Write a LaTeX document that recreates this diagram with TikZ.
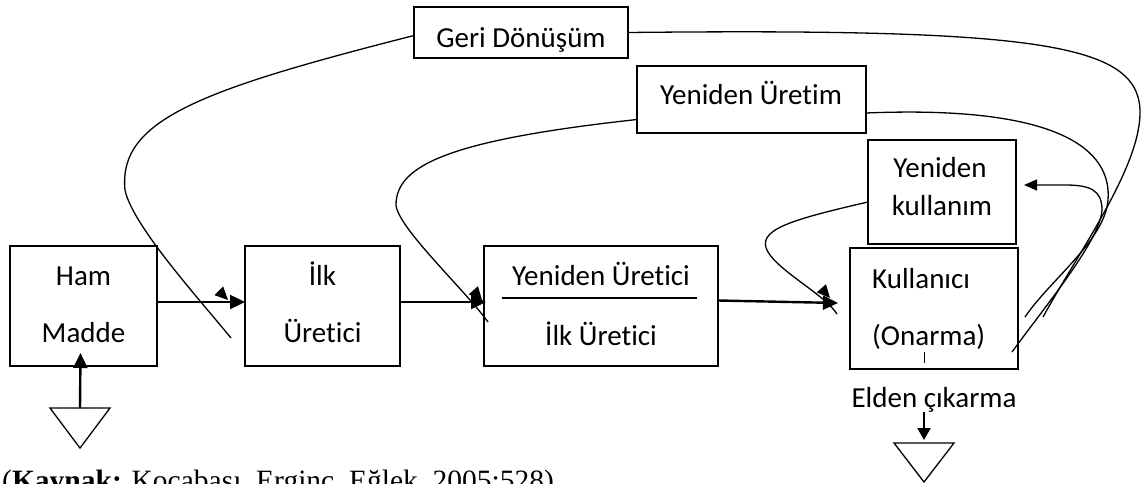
\documentclass[tikz,border=0pt]{standalone}
\usepackage{fontspec}
\setmainfont{Carlito}[Ligatures=NoCommon]
\newfontfamily\capfont{Liberation Serif}
\usetikzlibrary{arrows.meta}

\begin{document}
\begin{tikzpicture}[x=1pt,y=-1pt,
  box/.style={draw, line width=1.6pt, inner sep=0pt, outer sep=0pt},
  lbl/.style={font=\fontsize{29}{34}\selectfont, inner sep=0pt, anchor=base},
  flow/.style={line width=2.4pt, -{Triangle[length=15pt,width=14pt]}},
  loopline/.style={line width=1.3pt},
  blob/.style={line width=1pt, -{Triangle[length=13pt,width=12pt]}},
  sinktri/.style={draw, line width=1.3pt}
]
\useasboundingbox (0,0) rectangle (1146,484);

% boxes
\node[box, minimum width=147pt, minimum height=120pt] (ham) at (83.5,306) {};
\node[box, minimum width=155pt, minimum height=120pt] (ilk) at (322.5,306) {};
\node[box, minimum width=234pt, minimum height=120pt] (yu)  at (601,306) {};
\node[box, minimum width=168pt, minimum height=121pt] (kul) at (934,308.5) {};
\node[box, minimum width=148pt, minimum height=104pt] (yk)  at (942,192) {};
\node[box, minimum width=229pt, minimum height=67pt]  (yur) at (751.5,99.5) {};
\node[box, minimum width=214pt, minimum height=51pt]  (gd)  at (521,32.5) {};

% divider inside the producer box
\draw[line width=1.4pt] (502,298) -- (697,298);

% labels
\node[lbl] (tHam)   at (83.5,285) {Ham};
\node[lbl] (tMadde) at (83.5,342) {Madde};
\node[lbl] (tIlk)   at (322.5,285) {İlk};
\node[lbl] (tUret)  at (322.5,342) {Üretici};
\node[lbl] (tYU)    at (601,285) {Yeniden Üretici};
\node[lbl] (tIU)    at (601,345) {İlk Üretici};
\node[lbl, anchor=base west] (tKul) at (872,288) {Kullanıcı};
\node[lbl, anchor=base west] (tOn)  at (872,345) {(Onarma)};
\node[lbl] (tElden) at (934,407) {Elden çıkarma};
\node[lbl] (tYen)   at (940,177) {Yeniden};
\node[lbl] (tKull)  at (942,215) {kullanım};
\node[lbl] (tYUr)   at (751,105) {Yeniden Üretim};
\node[lbl] (tGD)    at (521,48) {Geri Dönüşüm};

% source and sink triangles
\coordinate (srcL) at (80,408);
\draw[sinktri] (50,408) -- (110,408) -- (80,448) -- cycle;
\coordinate (sinkR) at (924,443);
\draw[sinktri] (894,443) -- (954,443) -- (924,482) -- cycle;

% main flow
\draw[flow] (srcL) -- ([xshift=-3pt,yshift=13pt]ham.south);
\draw[flow] ([yshift=4pt]ham.east) -- ([yshift=4pt]ilk.west);
\draw[flow] ([yshift=4pt]ilk.east) -- ([xshift=2pt,yshift=4pt]yu.west);
\draw[flow] ([yshift=5.5pt]yu.east) -- ([xshift=-12pt,yshift=5.5pt]kul.west);
\draw[line width=2pt, -{Triangle[length=12pt,width=13pt]}] (tElden.south -| sinkR) -- ([yshift=3pt]sinkR);
\draw[line width=1pt] (924,352) -- (924,363);

% loose ends of the return loops
\coordinate (e1) at (231,338);
\coordinate (e2) at (1043,317);
\coordinate (e3) at (488,322);
\coordinate (e4) at (1025,317);
\coordinate (e5) at (837,314);
\coordinate (e6) at (1012,352);

% recycling loop
\draw[loopline] ([yshift=-3pt]gd.west) .. controls (200,90) and (118,120) .. (125,190)
  .. controls (132,225) and (200,300) .. (e1);
\draw[loopline] (gd.east) .. controls (1050,28) and (1142,45) .. (1140,115)
  .. controls (1138,170) and (1080,250) .. (e2);

% remanufacturing loop
\draw[loopline] ([yshift=-20pt]yur.west) .. controls (450,140) and (396,165) .. (396,205)
  .. controls (398,228) and (465,290) .. (e3);
\draw[loopline] ([yshift=-13.5pt]yur.east) .. controls (1060,105) and (1112,150) .. (1108,200)
  .. controls (1105,240) and (1050,280) .. (e4);

% reuse loop
\draw[loopline] ([yshift=-10pt]yk.west) .. controls (790,220) and (755,230) .. (768,252)
  .. controls (780,272) and (825,295) .. (e5);
\draw[loopline, -{Triangle[length=13pt,width=11pt]}] (e6) .. controls (1050,300) and (1100,240) .. (1102,210)
  .. controls (1102,190) and (1090,185) .. (1065,185) -- ([xshift=8pt,yshift=7pt]yk.east);

% arrowheads where the loops meet the flow line
\draw[blob] (220,292) -- (228,300);
\draw[blob] (474,291) -- (482,300);
\draw[blob] (822,289) -- (830,298);

% source note
\node[font=\capfont\fontsize{29.5}{34}\selectfont, anchor=base west, inner sep=0pt] (note) at (2,490)
  {(\textbf{Kaynak:} Kocabaşı, Erginç, Eğlek, 2005:528)};
\end{tikzpicture}
\end{document}
